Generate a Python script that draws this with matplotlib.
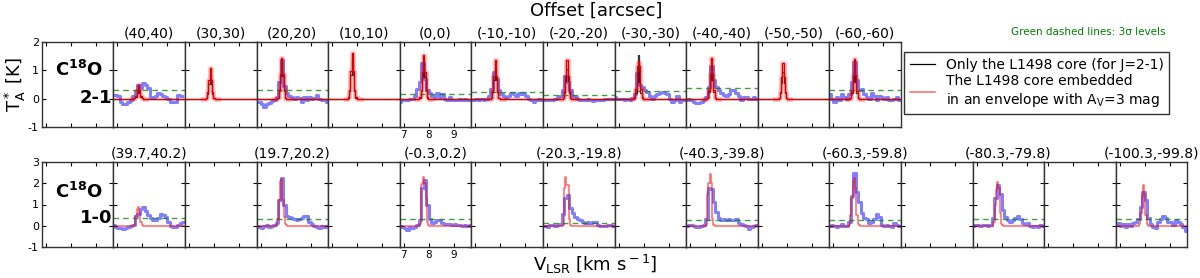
import numpy as np
import matplotlib
matplotlib.use('Agg')
import matplotlib.pyplot as plt
from matplotlib.lines import Line2D

plt.rcParams['font.family'] = ['DejaVu Sans']
plt.rcParams['mathtext.fontset'] = 'dejavusans'
plt.rcParams['axes.unicode_minus'] = False

# channel grids [km/s]
v_obs = np.round(6.85 + 0.1 * np.arange(29), 2)     # observed spectra
v_mod = np.round(6.85 + 0.05 * np.arange(58), 2)    # model spectra
v_win = np.round(7.55 + 0.05 * np.arange(13), 2)    # model line window (rest = 0)

# ---------------- C18O 2-1 (top row) ----------------
top_labels = ['(40,40)', '(30,30)', '(20,20)', '(10,10)', '(0,0)', '(-10,-10)',
              '(-20,-20)', '(-30,-30)', '(-40,-40)', '(-50,-50)', '(-60,-60)']

obs21 = [
    [0.14, 0.12, 0.08, -0.12, -0.2, -0.18, -0.1, -0.03, 0.08, 0.26, 0.5, 0.38, 0.55, 0.5, 0.38,
     0.05, 0.05, 0.1, 0.2, 0.15, 0.1, 0.05, 0.0, -0.1, -0.12, -0.1, 0.14, 0.1, np.nan],
    None,
    [-0.1, -0.12, -0.2, -0.28, -0.2, -0.15, -0.08, -0.03, 0.05, 0.6, 1.35, 0.45, 0.2, 0.08, 0.05,
     0.0, 0.05, 0.03, -0.1, 0.05, -0.05, 0.05, 0.0, 0.02, 0.12, 0.0, -0.03, -0.05, -0.1],
    None,
    [-0.1, -0.05, -0.03, -0.03, 0.0, 0.0, 0.1, 0.35, 0.6, 1.25, 0.7, 0.3, 0.2, 0.1, 0.05,
     0.2, 0.05, 0.15, 0.0, -0.03, 0.05, -0.03, -0.05, -0.03, 0.0, -0.03, 0.0, -0.03, -0.05],
    [-0.03, -0.03, 0.0, -0.05, 0.0, -0.03, 0.0, 0.1, 0.35, 0.95, 0.7, 0.3, 0.15, 0.1, 0.05,
     0.1, 0.2, 0.15, 0.1, 0.2, 0.15, 0.2, 0.1, 0.0, -0.05, -0.1, -0.05, 0.0, -0.03],
    [-0.03, -0.05, -0.03, -0.05, -0.03, 0.0, 0.05, 0.08, 0.3, 0.8, 0.6, 0.3, 0.1, 0.05, 0.0,
     -0.05, -0.03, -0.05, 0.0, -0.05, -0.08, -0.05, -0.03, -0.05, -0.03, 0.0, -0.02, 0.0, 0.0],
    [0.05, 0.0, -0.02, 0.0, -0.05, 0.0, -0.05, 0.02, 0.15, 0.9, 0.5, 0.4, 0.3, 0.25, 0.1,
     0.0, 0.1, 0.15, 0.2, 0.25, 0.2, 0.15, 0.0, -0.1, -0.05, 0.1, -0.1, -0.05, -0.03],
    [-0.03, 0.0, -0.05, -0.12, -0.15, -0.16, -0.1, -0.03, 0.05, 0.4, 1.15, 0.65, 0.42, 0.3, 0.2,
     0.12, 0.08, 0.15, 0.3, 0.3, 0.2, 0.1, -0.03, 0.05, 0.05, 0.0, 0.0, 0.05, -0.02],
    None,
    [0.15, 0.0, -0.12, 0.05, -0.05, 0.15, 0.05, 0.0, 0.15, 0.6, 1.3, 0.65, 0.3, 0.35, 0.15,
     0.05, 0.0, 0.2, 0.1, -0.05, 0.1, 0.05, 0.0, 0.05, -0.05, -0.05, 0.0, 0.05, -0.05],
]

# only the L1498 core (black)
core21 = [
    [0, 0, 0, 0.01, 0.07, 0.21, 0.35, 0.21, 0.07, 0.01, 0, 0, 0],
    [0, 0, 0, 0.03, 0.17, 0.51, 0.85, 0.51, 0.17, 0.03, 0, 0, 0],
    [0, 0, 0, 0.04, 0.27, 0.81, 1.35, 0.81, 0.27, 0.04, 0, 0, 0],
    [0, 0, 0.04, 0.28, 0.84, 1.4, 0.84, 0.28, 0.04, 0, 0, 0, 0],
    [0, 0, 0.04, 0.26, 0.78, 1.3, 0.78, 0.26, 0.04, 0, 0, 0, 0],
    [0, 0, 0.03, 0.22, 0.66, 1.1, 0.66, 0.22, 0.03, 0, 0, 0, 0],
    [0, 0, 0.03, 0.21, 0.63, 1.05, 0.63, 0.21, 0.03, 0, 0, 0, 0],
    [0, 0, 0.03, 0.2, 0.6, 1.55, 0.6, 0.2, 0.03, 0, 0, 0, 0],
    [0, 0, 0, 0.03, 0.22, 0.66, 1.1, 0.66, 0.22, 0.03, 0, 0, 0],
    [0, 0, 0, 0.03, 0.19, 0.57, 0.95, 0.57, 0.19, 0.03, 0, 0, 0],
    [0, 0, 0, 0.03, 0.2, 0.6, 1.0, 0.6, 0.2, 0.03, 0, 0, 0],
]

# core embedded in envelope (red)
env21 = [
    [0, 0, 0, 0.02, 0.1, 0.3, 0.5, 0.3, 0.1, 0.02, 0, 0, 0],
    [0, 0, 0, 0.03, 0.22, 0.66, 1.1, 0.66, 0.22, 0.03, 0, 0, 0],
    [0, 0, 0, 0.04, 0.29, 0.87, 1.45, 0.87, 0.29, 0.04, 0, 0, 0],
    [0, 0, 0.05, 0.32, 0.96, 1.6, 0.96, 0.32, 0.05, 0, 0, 0, 0],
    [0, 0, 0.05, 0.31, 0.93, 1.55, 0.93, 0.31, 0.05, 0, 0, 0, 0],
    [0, 0, 0.04, 0.27, 0.81, 1.35, 0.81, 0.27, 0.04, 0, 0, 0, 0],
    [0, 0, 0.04, 0.27, 0.81, 1.35, 0.81, 0.27, 0.04, 0, 0, 0, 0],
    [0, 0, 0.05, 0.35, 1.15, 1.3, 1.15, 0.35, 0.05, 0, 0, 0, 0],
    [0, 0, 0, 0.04, 0.29, 0.87, 1.45, 0.87, 0.29, 0.04, 0, 0, 0],
    [0, 0, 0, 0.04, 0.25, 0.75, 1.25, 0.75, 0.25, 0.04, 0, 0, 0],
    [0, 0, 0, 0.04, 0.28, 0.84, 1.4, 0.84, 0.28, 0.04, 0, 0, 0],
]

sigma21 = [0.31, None, 0.29, None, 0.17, 0.22, 0.14, 0.28, 0.38, None, 0.32]

# ---------------- C18O 1-0 (bottom row) ----------------
bot_labels = ['(39.7,40.2)', '(19.7,20.2)', '(-0.3,0.2)', '(-20.3,-19.8)',
              '(-40.3,-39.8)', '(-60.3,-59.8)', '(-80.3,-79.8)', '(-100.3,-99.8)']

obs10 = [
    [0.05, -0.05, -0.1, -0.12, -0.15, -0.1, -0.08, 0.0, 0.05, 0.45, 0.55, 0.8, 0.9, 0.7, 0.5,
     0.35, 0.25, 0.25, 0.35, 0.55, 0.5, 0.4, 0.2, 0.0, -0.05, -0.05, 0.05, 0.15, 0.2],
    [0.0, -0.05, -0.1, -0.02, 0.05, -0.05, 0.0, 0.05, 0.15, 1.2, 2.25, 1.0, 0.45, 0.4, 0.35,
     0.3, 0.25, 0.3, 0.35, 0.45, 0.45, 0.2, 0.1, 0.0, -0.05, -0.1, 0.0, -0.05, 0.0],
    [-0.02, -0.05, -0.1, -0.18, -0.08, -0.1, -0.05, 0.03, 0.25, 1.8, 2.15, 1.0, 0.3, 0.15, 0.2,
     0.25, 0.28, 0.15, 0.1, 0.08, 0.1, 0.05, 0.1, 0.05, 0.05, 0.0, 0.05, -0.02, 0.05],
    [0.0, -0.02, -0.05, 0.02, 0.05, 0.0, 0.03, 0.1, 0.55, 1.3, 1.45, 0.85, 0.6, 0.4, 0.3,
     0.25, 0.2, 0.15, 0.2, 0.15, 0.2, 0.2, 0.05, -0.02, 0.0, -0.03, 0.05, 0.05, 0.0],
    [0.0, 0.02, 0.05, 0.0, -0.08, -0.05, 0.0, 0.05, 0.3, 1.8, 1.75, 1.1, 0.65, 0.35, 0.25,
     0.3, 0.25, 0.3, 0.25, 0.28, 0.3, 0.15, 0.08, 0.05, 0.0, -0.15, -0.08, 0.0, 0.05],
    [0.0, 0.05, 0.0, -0.05, 0.0, 0.08, 0.0, -0.03, 0.2, 1.4, 2.5, 1.6, 1.1, 0.6, 0.35,
     0.3, 0.15, 0.2, 0.3, 0.55, 0.4, 0.05, 0.0, 0.02, 0.0, -0.05, 0.15, 0.05, 0.0],
    [0.0, 0.05, 0.02, 0.0, 0.05, 0.02, 0.0, 0.05, 0.35, 1.3, 1.9, 1.5, 0.75, 0.4, 0.25,
     0.2, 0.25, 0.35, 0.47, 0.3, 0.15, 0.1, 0.15, -0.02, -0.08, 0.0, -0.05, 0.05, 0.0],
    [0.05, 0.15, 0.0, 0.1, -0.05, 0.1, 0.0, 0.15, 0.2, 0.3, 0.9, 1.6, 1.2, 0.35, 0.1,
     -0.05, -0.1, 0.2, 0.3, 0.45, 0.35, 0.2, 0.2, 0.05, 0.28, 0.2, 0.1, -0.05, -0.25],
]

env10 = [
    [0, 0, 0, 0.05, 0.45, 0.8, 0.9, 0.6, 0.2, 0.05, 0, 0, 0],
    [0, 0, 0.05, 0.3, 1.2, 2.1, 2.2, 1.2, 0.4, 0.1, 0.02, 0, 0],
    [0, 0, 0.1, 1.9, 2.0, 2.3, 2.0, 1.3, 0.2, 0.05, 0, 0, 0],
    [0, 0, 0.05, 1.8, 2.3, 1.9, 1.9, 0.3, 0.05, 0, 0, 0, 0],
    [0, 0, 0.05, 1.5, 2.0, 2.45, 2.0, 0.3, 0.05, 0, 0, 0, 0],
    [0, 0, 0.05, 0.5, 1.3, 2.1, 2.25, 1.8, 0.5, 0.1, 0.02, 0, 0],
    [0, 0, 0, 0.2, 1.0, 1.7, 2.05, 1.8, 0.6, 0.1, 0.02, 0, 0],
    [0, 0, 0, 0, 0, 0.1, 0.6, 1.4, 1.9, 1.5, 0.5, 0.1, 0],
]

sigma10 = [0.37, 0.31, 0.31, 0.13, 0.28, 0.28, 0.31, 0.34]


def full_model(win):
    # model is zero outside the line window
    y = np.zeros(len(v_mod))
    i0 = int(np.argmin(np.abs(v_mod - v_win[0])))
    y[i0:i0 + len(win)] = win
    return y


def style(ax, ylim, yticks):
    ax.set_xlim(6.84, 9.70)
    ax.set_ylim(*ylim)
    ax.set_xticks([7, 8, 9])
    ax.set_yticks(yticks)
    ax.tick_params(direction='in', top=True, right=True, length=3, width=0.8,
                   labelsize=8, labelbottom=False, labelleft=False, pad=2)
    for s in ax.spines.values():
        s.set_linewidth(1.0)
        s.set_color('#333333')


fig = plt.figure(figsize=(12, 2.78), dpi=100)
W, H = 1200.0, 278.0
x0, pw, ph = 41.7, 71.6, 85.0

blue = dict(color='blue', lw=2.2, alpha=0.5)
green = dict(color='green', lw=1.0, ls=(0, (4, 3)), alpha=0.75)

# top row: 12 panels
top_axes = []
for i in range(12):
    ax = fig.add_axes([(x0 + i * pw) / W, 1 - 127 / H, pw / W, ph / H])
    style(ax, (-1, 2), [-1, 0, 1, 2])
    top_axes.append(ax)

for k in range(11):
    ax = top_axes[k + 1]
    ax.set_title(top_labels[k], fontsize=10, pad=3)
    if obs21[k] is not None:
        ax.step(v_obs, obs21[k], where='mid', **blue)
        ax.axhline(sigma21[k], **green)
    core = full_model(core21[k])
    env = full_model(env21[k])
    ax.step(v_mod, core, where='mid', color='black', lw=0.9, alpha=0.8)
    ax.step(v_win, env21[k], where='mid', color='red', lw=3.5, alpha=0.25)
    ax.step(v_mod, env, where='mid', color='#dd0000', lw=1.0)

# bottom row: 16 panels, data on every other one
bot_axes = []
for i in range(16):
    ax = fig.add_axes([(x0 + i * pw) / W, 1 - 247 / H, pw / W, ph / H])
    style(ax, (-1, 3), [-1, 0, 1, 2, 3])
    bot_axes.append(ax)

for k in range(8):
    ax = bot_axes[2 * k + 1]
    ax.set_title(bot_labels[k], fontsize=10, pad=3)
    ax.step(v_obs, obs10[k], where='mid', **blue)
    ax.axhline(sigma10[k], **green)
    ax.step(v_mod, full_model(env10[k]), where='mid', color='red', lw=1.1, alpha=0.6)

# tick labels only where the reference shows them
top_axes[0].tick_params(labelleft=True)
bot_axes[0].tick_params(labelleft=True)
top_axes[5].tick_params(labelbottom=True, labelsize=7.5)
bot_axes[5].tick_params(labelbottom=True, labelsize=7.5)

top_axes[0].set_ylabel(r'T$^*_{\rm A}$ [K]', fontsize=13, labelpad=0)

# line labels
top_axes[0].text(0.52, 0.67, r'C$^{\mathbf{18}}$O', transform=top_axes[0].transAxes,
                 fontsize=13, fontweight='bold', ha='center', va='center')
top_axes[0].text(0.99, 0.34, '2-1', transform=top_axes[0].transAxes,
                 fontsize=13, fontweight='bold', ha='right', va='center')
bot_axes[0].text(0.52, 0.65, r'C$^{\mathbf{18}}$O', transform=bot_axes[0].transAxes,
                 fontsize=13, fontweight='bold', ha='center', va='center')
bot_axes[0].text(0.99, 0.34, '1-0', transform=bot_axes[0].transAxes,
                 fontsize=13, fontweight='bold', ha='right', va='center')

fig.text(0.497, 1 - 11 / H, 'Offset [arcsec]', fontsize=13, ha='center', va='center')
fig.text(0.496, 1 - 264 / H, r'V$_{\rm LSR}$ [km s$^{\rm -1}$]', fontsize=13,
         ha='center', va='center')
fig.text(1088 / W, 1 - 32 / H, 'Green dashed lines: 3σ levels', color='green',
         fontsize=7.5, ha='center', va='center')

handles = [Line2D([], [], color='black', lw=0.9),
           Line2D([], [], color='red', lw=1.1, alpha=0.6)]
labels = ['Only the L1498 core (for J=2-1)',
          'The L1498 core embedded\nin an envelope with A$_{\\rm V}$=3 mag']
leg = fig.legend(handles, labels, loc='upper left', bbox_to_anchor=(904 / W, 1 - 52 / H),
                 fontsize=10, fancybox=False, edgecolor='#333333', framealpha=1,
                 handlelength=1.8, borderaxespad=0, borderpad=0.4, labelspacing=0.2)
leg.get_frame().set_linewidth(1.0)

fig.savefig('out.png', dpi=100)
